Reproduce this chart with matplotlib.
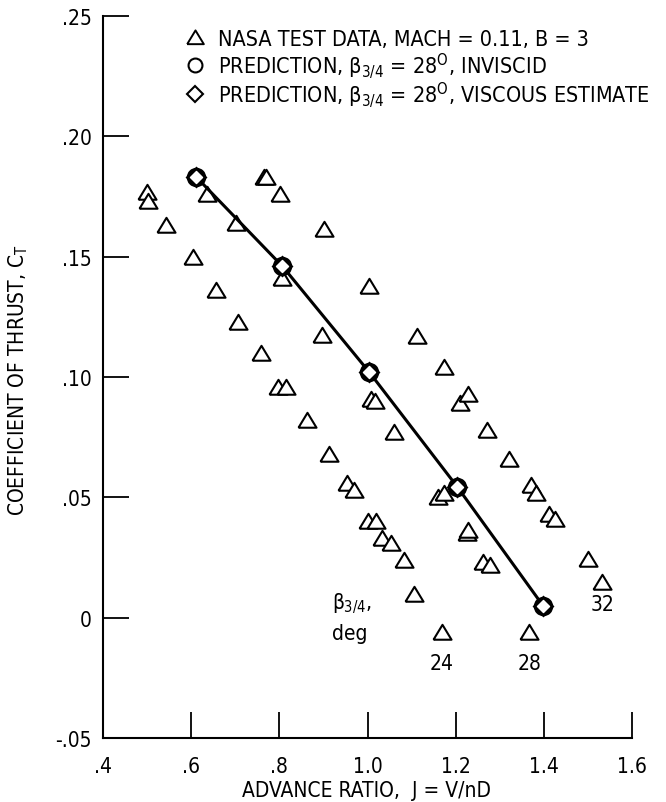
import matplotlib
matplotlib.use("Agg")
import matplotlib.pyplot as plt
from matplotlib.lines import Line2D
from matplotlib import font_manager as fm

# pick a condensed sans if one is installed
cands = []
for f in fm.fontManager.ttflist:
    st = str(f.stretch).lower()
    fn = f.fname.lower()
    if f.style == 'normal' and ('condensed' in st or 'narrow' in f.name.lower()
                                or 'condensed' in fn or 'narrow' in fn) \
            and 'bold' not in fn and 'oblique' not in fn and 'italic' not in fn:
        cands.append(f)
condensed = cands[0] if cands else None
if condensed is not None:
    base = condensed.name
    plt.rcParams['font.stretch'] = condensed.stretch
    FS = 15
else:
    base = 'DejaVu Sans'
    FS = 13
plt.rcParams['font.family'] = [base, 'DejaVu Sans']
plt.rcParams['mathtext.fontset'] = 'custom'
plt.rcParams['mathtext.rm'] = base
plt.rcParams['mathtext.it'] = base

# ---- data ----
j_24 = [0.499, 0.503, 0.543, 0.604, 0.657, 0.707, 0.758, 0.796, 0.815, 0.862,
        0.912, 0.954, 0.969, 1.001, 1.020, 1.033, 1.054, 1.082, 1.105, 1.168]
ct_24 = [0.177, 0.173, 0.163, 0.150, 0.136, 0.123, 0.110, 0.096, 0.096, 0.082,
         0.068, 0.056, 0.053, 0.040, 0.040, 0.033, 0.031, 0.024, 0.010, -0.006]

j_28 = [0.635, 0.701, 0.807, 0.896, 1.007, 1.018, 1.061, 1.160, 1.173,
        1.225, 1.229, 1.261, 1.277, 1.367]
ct_28 = [0.176, 0.164, 0.141, 0.1175, 0.091, 0.090, 0.077, 0.050, 0.052,
         0.035, 0.0365, 0.023, 0.022, -0.006]

j_32 = [0.765, 0.769, 0.801, 0.901, 1.003, 1.112, 1.173, 1.209, 1.227, 1.272,
        1.320, 1.371, 1.383, 1.412, 1.426, 1.499, 1.533]
ct_32 = [0.183, 0.183, 0.176, 0.1615, 0.138, 0.117, 0.104, 0.089, 0.093, 0.078,
         0.066, 0.055, 0.052, 0.043, 0.041, 0.0245, 0.015]

j_pred = [0.612, 0.807, 1.004, 1.203, 1.398]
ct_pred = [0.183, 0.146, 0.102, 0.0545, 0.005]

series_labels = ['24', '28', '32']
xticks = [0.4, 0.6, 0.8, 1.0, 1.2, 1.4, 1.6]
xticklabels = ['.4', '.6', '.8', '1.0', '1.2', '1.4', '1.6']
yticks = [-0.05, 0.0, 0.05, 0.10, 0.15, 0.20, 0.25]
yticklabels = ['-.05', '0', '.05', '.10', '.15', '.20', '.25']
legend_labels = [
    'NASA TEST DATA, MACH = 0.11, B = 3',
    r'PREDICTION, $\beta_{3/4}$ = 28$^{\rm O}$, INVISCID',
    r'PREDICTION, $\beta_{3/4}$ = 28$^{\rm O}$, VISCOUS ESTIMATE',
]

W, H = 666, 803
fig = plt.figure(figsize=(W / 100, H / 100), dpi=100)
ax = fig.add_axes([0.1547, 0.0797, 0.7943, 0.8991])

TRI = [(-1, -0.8), (1, -0.8), (0, 0.85), (-1, -0.8)]
tri_kw = dict(linestyle='none', marker=TRI, ms=13, mfc='white', mec='black', mew=1.5)
for jj, cc in ((j_24, ct_24), (j_28, ct_28), (j_32, ct_32)):
    ax.plot(jj, cc, **tri_kw)

ax.plot(j_pred, ct_pred, color='black', lw=2.2, zorder=3)
ax.plot(j_pred, ct_pred, linestyle='none', marker='o', ms=12, mfc='white',
        mec='black', mew=2.0, zorder=4)
ax.plot(j_pred, ct_pred, linestyle='none', marker='D', ms=9, mfc='none',
        mec='black', mew=2.0, zorder=5)

ax.set_xlim(0.4, 1.6)
ax.set_ylim(-0.05, 0.25)
ax.set_xticks(xticks)
ax.set_xticklabels(xticklabels)
ax.set_yticks(yticks)
ax.set_yticklabels(yticklabels)
for s in ('top', 'right'):
    ax.spines[s].set_visible(False)
for s in ('left', 'bottom'):
    ax.spines[s].set_linewidth(1.5)
ax.tick_params(direction='in', length=19, width=1.3, labelsize=FS)
ax.tick_params(axis='y', pad=8)
ax.tick_params(axis='x', pad=13)

# series annotations
for jj, cc, lab, off in ((j_24, ct_24, series_labels[0], -22),
                         (j_28, ct_28, series_labels[1], -22),
                         (j_32, ct_32, series_labels[2], -16.5)):
    ax.annotate(lab, (jj[-1], cc[-1]), xytext=(0, off), textcoords='offset points',
                ha='center', va='center', fontsize=FS)
ax.text(0.965, 0.006, r'$\beta_{3/4}$,', ha='center', va='center', fontsize=FS)
ax.text(0.960, -0.0065, 'deg', ha='center', va='center', fontsize=FS)

# key (drawn manually for even row spacing)
key_markers = [dict(marker=TRI, ms=12, mew=1.4), dict(marker='o', ms=10, mew=1.5),
               dict(marker='D', ms=8.5, mew=1.5)]
row_y = [38, 66, 95]
for yy, mk, lab in zip(row_y, key_markers, legend_labels):
    fig.add_artist(Line2D([195 / W], [1 - yy / H], transform=fig.transFigure,
                          linestyle='none', mfc='white', mec='black', **mk))
    fig.text(218 / W, 1 - (yy + 7.5) / H, lab, ha='left', va='baseline',
             fontsize=FS + 0.5)

fig.text(0.027, 0.527, r'COEFFICIENT OF THRUST, C$_{\rm T}$', rotation=90,
         ha='center', va='center', fontsize=FS)
fig.text(0.551, 0.0145, 'ADVANCE RATIO,  J = V/nD', ha='center', va='center', fontsize=FS)

fig.savefig('out.png', dpi=100)
